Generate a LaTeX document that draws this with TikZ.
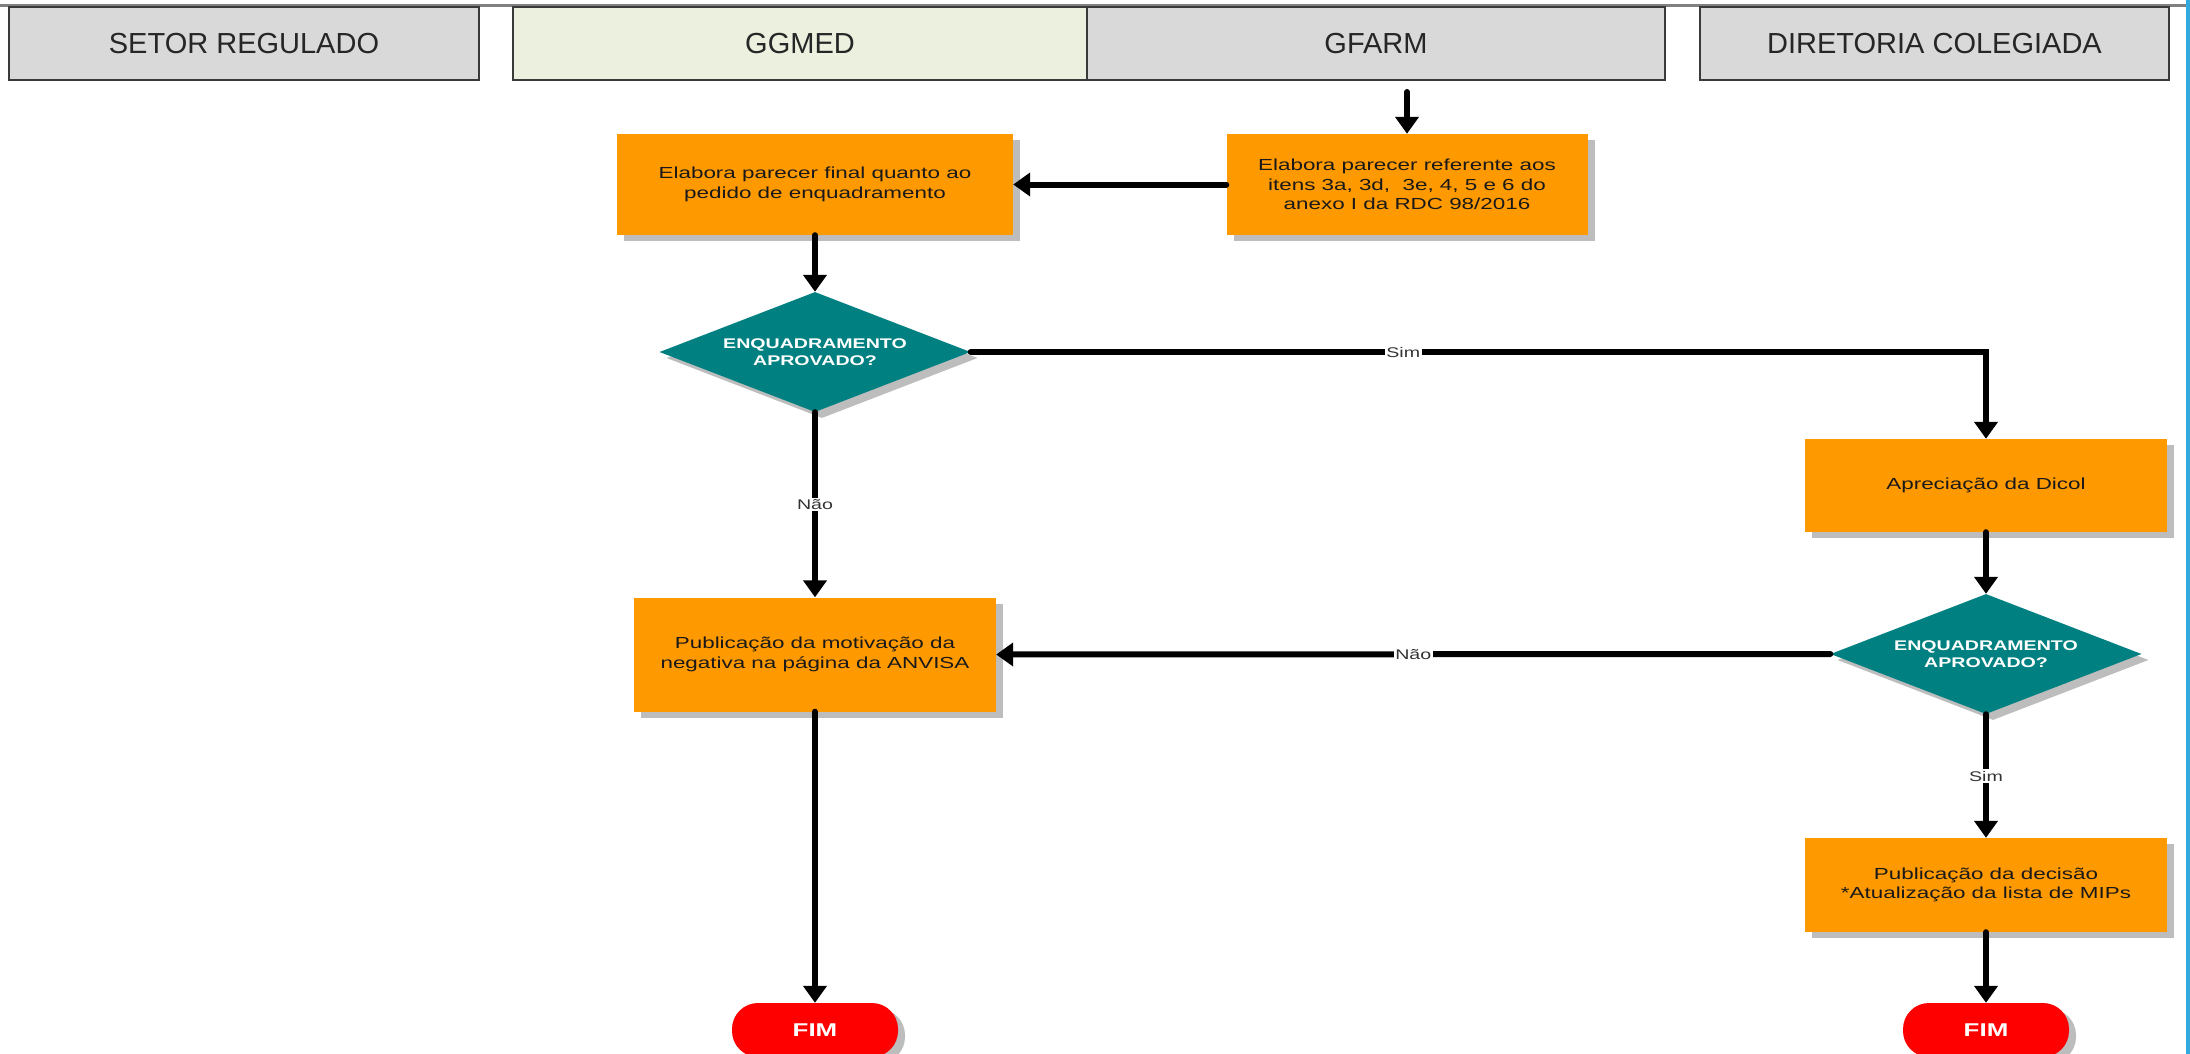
\documentclass[tikz,border=0pt]{standalone}
\usepackage{fontspec}
\setmainfont{Liberation Sans}
\newfontfamily\wfont[FakeStretch=1.4]{Liberation Sans}
\usetikzlibrary{arrows.meta,shapes.geometric,shadows}
\definecolor{orng}{HTML}{FF9900}
\definecolor{teal}{HTML}{008080}
\definecolor{fimred}{HTML}{FF0000}
\definecolor{hdrgray}{HTML}{D9D9D9}
\definecolor{ggmedc}{HTML}{EBF0DF}
\definecolor{bordc}{HTML}{3A3A3A}
\definecolor{shadc}{HTML}{BDBDBD}
\definecolor{edgeblue}{HTML}{33AADD}
\tikzset{
  hdr/.style={draw=bordc, line width=2pt, fill=hdrgray, minimum height=73pt, inner sep=0pt,
    font=\fontsize{29}{32}\selectfont, text=black!85},
  shad/.style={drop shadow={shadow xshift=7pt, shadow yshift=-6pt, fill=shadc, opacity=1}},
  procbox/.style={shad, fill=orng, inner sep=0pt, align=center, text=black!90,
    font=\wfont\fontsize{16}{19.5}\selectfont},
  decis/.style={shad, diamond, fill=teal, inner sep=0pt, aspect=2.58,
    minimum width=311pt, minimum height=120pt, align=center, text=white,
    font=\wfont\bfseries\fontsize{14}{17.5}\selectfont},
  fimbox/.style={shad, fill=fimred, rounded corners=26pt, minimum width=166pt,
    minimum height=54pt, inner sep=0pt, text=white,
    font=\wfont\bfseries\fontsize{18.5}{20}\selectfont},
  arr/.style={line width=6pt, line cap=round, -{Triangle[width=23pt,length=17pt]}},
  lbl/.style={fill=white, inner sep=1.5pt, text=black!80,
    font=\wfont\fontsize{14}{16}\selectfont}
}
\begin{document}
\begin{tikzpicture}[x=1pt,y=-1pt]
\useasboundingbox (0,0) rectangle (2190,1054);
\fill[white] (0,0) rectangle (2190,1054);
% lanes header
\draw[gray, line width=3pt] (0,6) -- (2190,6);
\node[hdr, minimum width=470pt] (h1) at (244,43.5) {SETOR REGULADO};
\node[hdr, minimum width=574pt, fill=ggmedc] (h2) at (800,43.5) {GGMED};
\node[hdr, minimum width=578pt] (h3) at (1376,43.5) {GFARM};
\node[hdr, minimum width=469pt] (h4) at (1934.5,43.5) {DIRETORIA COLEGIADA};
\fill[edgeblue] (2186,0) rectangle (2190,1054);
% process boxes
\node[procbox, minimum width=396pt, minimum height=101pt] (b1) at (815,184.5)
  {Elabora parecer final quanto ao\\pedido de enquadramento};
\node[procbox, minimum width=361pt, minimum height=101pt] (b2) at (1407,184.5)
  {Elabora parecer referente aos\\itens 3a, 3d,\ \ 3e, 4, 5 e 6 do\\anexo I da RDC 98/2016};
\node[decis] (d1) at (815,352) {ENQUADRAMENTO\\APROVADO?};
\node[procbox, minimum width=362pt, minimum height=93pt] (ap) at (1986,485.5)
  {Apreciação da Dicol};
\node[decis] (d2) at (1986,654) {ENQUADRAMENTO\\APROVADO?};
\node[procbox, minimum width=362pt, minimum height=114pt] (pm) at (815,654.5)
  {Publicação da motivação da\\negativa na página da ANVISA};
\node[procbox, minimum width=362pt, minimum height=94pt] (pd) at (1986,885)
  {Publicação da decisão\\*Atualização da lista de MIPs};
\node[fimbox] (f1) at (815,1030) {FIM};
\node[fimbox] (f2) at (1986,1030) {FIM};
\coordinate (start) at (1407,92);
% connectors
\draw[arr] (start) -- (b2.north);
\draw[arr] (b2.west) -- (b1.east);
\draw[arr] (b1.south) -- (d1.north);
\draw[arr] (d1.east) -| node[lbl, pos=0.213] {Sim} (ap.north);
\draw[arr] (d1.south) -- node[lbl, pos=0.5] {Não} (pm.north);
\draw[arr] (ap.south) -- (d2.north);
\draw[arr] (d2.west) -- node[lbl, pos=0.5] {Não} (pm.east);
\draw[arr] (d2.south) -- node[lbl, pos=0.5] {Sim} (pd.north);
\draw[arr] (pm.south) -- (f1.north);
\draw[arr] (pd.south) -- (f2.north);
\end{tikzpicture}
\end{document}
